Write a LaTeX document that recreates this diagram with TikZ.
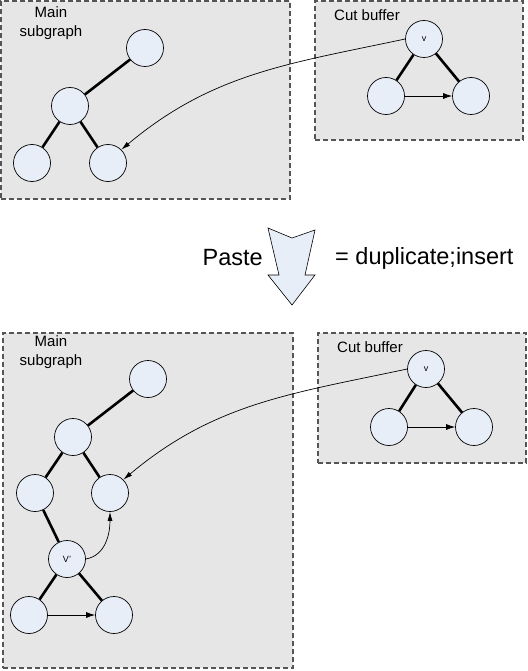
\documentclass[tikz,border=0pt]{standalone}
\usepackage{fontspec}
\setmainfont{Liberation Sans}
\usetikzlibrary{arrows.meta}
\definecolor{panelfill}{HTML}{E6E6E6}
\definecolor{panelline}{HTML}{555555}
\definecolor{nodefill}{HTML}{E8EEF8}
\tikzset{
  panel/.style={draw=panelline, fill=panelfill, dash pattern=on 5pt off 3pt, line width=1.1pt, inner sep=0pt},
  vtx/.style={circle, draw=black, fill=nodefill, line width=0.7pt, minimum size=37pt, inner sep=0pt, font=\fontsize{9}{10}\selectfont},
  tree/.style={line width=2.6pt},
  flow/.style={line width=0.8pt, -{Latex[length=9pt,width=6pt]}},
  curve/.style={line width=0.7pt, -{Latex[length=9pt,width=5pt]}},
  lbl/.style={font=\fontsize{15}{19}\selectfont, inner sep=0pt},
  big/.style={font=\fontsize{23.5}{26}\selectfont, inner sep=0pt}
}
\begin{document}
\begin{tikzpicture}[x=1pt,y=-1pt]
\useasboundingbox (0,0) rectangle (527,671);
% panels
\node[panel, minimum width=289pt, minimum height=198pt] (p1) at (145.5,100) {};
\node[panel, minimum width=208pt, minimum height=139pt] (p2) at (419,70.5) {};
\node[panel, minimum width=290pt, minimum height=335pt] (p3) at (148,500.5) {};
\node[panel, minimum width=208pt, minimum height=130pt] (p4) at (422,398) {};
% labels
\node[lbl, align=center] (l1) at (51,23) {Main\\subgraph};
\node[lbl, anchor=west] (l2) at (334,15) {Cut buffer};
\node[lbl, align=center] (l3) at (51,352) {Main\\subgraph};
\node[lbl, anchor=west] (l4) at (337,347) {Cut buffer};
% top-left tree
\node[vtx] (a1) at (145,48) {};
\node[vtx] (b1) at (70,106) {};
\node[vtx] (c1) at (32,163) {};
\node[vtx] (d1) at (108,163) {};
\draw[tree] (a1) -- (b1);
\draw[tree] (b1) -- (c1);
\draw[tree] (b1) -- (d1);
% top-right buffer
\node[vtx] (v1) at (424,39) {v};
\node[vtx] (e1) at (386,96) {};
\node[vtx] (f1) at (471,96) {};
\draw[tree] (v1) -- (e1);
\draw[tree] (v1) -- (f1);
\draw[flow] (e1) -- (f1);
\draw[curve] (v1.west) to[out=192, in=40] (d1.north east);
% middle
\node[big, anchor=east] (paste) at (263,258) {Paste};
\node[big, anchor=west] (dup) at (335,258) {= duplicate;insert};
\draw[fill=nodefill, line width=0.6pt] (268,228) -- (292,238) -- (315,230) -- (305,275) -- (315,275) -- (292,305) -- (268,275) -- (279,275) -- cycle;
% bottom-left tree
\node[vtx] (a2) at (148,379) {};
\node[vtx] (b2) at (73,437) {};
\node[vtx] (c2) at (35,493) {};
\node[vtx] (d2) at (110,493) {};
\node[vtx] (vp) at (67,559) {V'};
\node[vtx] (e2) at (29,615) {};
\node[vtx] (f2) at (114,615) {};
\draw[tree] (a2) -- (b2);
\draw[tree] (b2) -- (c2);
\draw[tree] (b2) -- (d2);
\draw[tree] (c2) -- (vp);
\draw[tree] (vp) -- (e2);
\draw[tree] (vp) -- (f2);
\draw[flow] (e2) -- (f2);
\draw[curve] (vp.east) to[out=10, in=270] (d2.south);
% bottom-right buffer
\node[vtx] (v2) at (426,369) {v};
\node[vtx] (e3) at (389,427) {};
\node[vtx] (f3) at (474,427) {};
\draw[tree] (v2) -- (e3);
\draw[tree] (v2) -- (f3);
\draw[flow] (e3) -- (f3);
\draw[curve] (v2.west) to[out=192, in=40] (d2.north east);
\end{tikzpicture}
\end{document}
